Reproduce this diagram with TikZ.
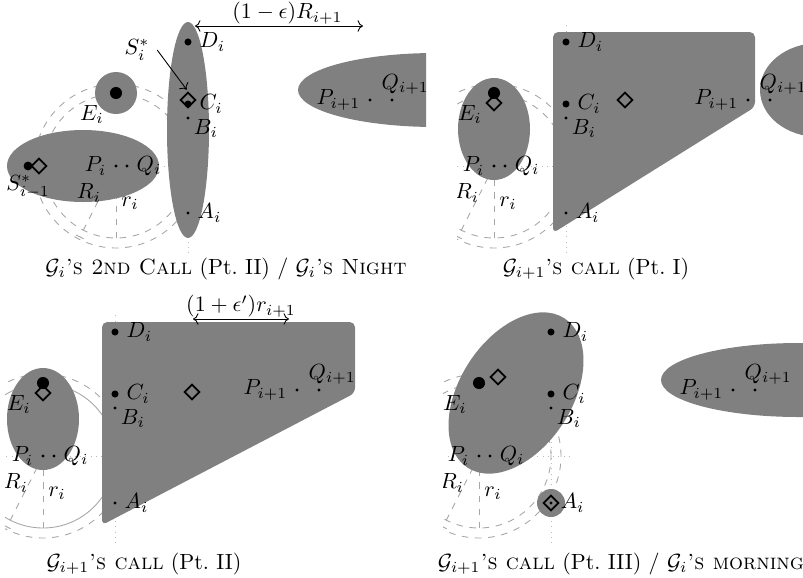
\documentclass[tikz,border=0pt]{standalone}
\usepackage{amsmath,amssymb}
\usetikzlibrary{shapes.geometric, arrows.meta, positioning}

\tikzset{
	bigdot/.style={circle, fill=black, inner sep=0pt, minimum size=3.2pt},
	smalldot/.style={circle, fill=black, inner sep=0pt, minimum size=1.4pt},
	edot/.style={circle, fill=black, inner sep=0pt, minimum size=5.5pt},
	diam/.style={diamond, draw=black, thick, inner sep=0pt, minimum size=7pt},
	ring/.style={gray!70, dashed},
	ringsolid/.style={gray!70},
	axisline/.style={gray!55, dotted},
	blob/.style={fill=gray}
}

\newcommand{\panelgrid}[1]{%
	\draw[axisline] (-100,0) -- (92,0);
	\draw[axisline] (72,-87) -- (72,144);
	\draw[#1] (0,0) circle (72);
	\draw[ring] (0,0) circle (82);
	\draw[ring] (0,0) -- (0,-72);
	\draw[ring, -{Bar[width=3.8pt]}] (0,0) -- (243:80);
}

\newcommand{\panelpoints}{%
	\node[bigdot, label=right:$D_i$] (D) at (72,124) {};
	\node[bigdot, label=right:$C_i$] (C) at (72,62) {};
	\node[smalldot, label={[xshift=-1.5pt, yshift=3.5pt]below right:$B_i$}] (B) at (72,48) {};
	\node[smalldot, label=right:$A_i$] (A) at (72,-47) {};
	\node[edot, label=225:$E_i$] (E) at (0,73) {};
	\node[smalldot, label=left:$P_i$] (P) at (0,0) {};
	\node[smalldot, label=right:$Q_i$] (Q) at (11,0) {};
	\node[smalldot, label=left:$P_{i+1}$] (Pn) at (254,66) {};
	\node[smalldot, label={[xshift=6pt, yshift=-2pt]above:$Q_{i+1}$}] (Qn) at (276,66) {};
	\node (Rl) at (-27,-27) {$R_i$};
	\node (rl) at (14,-37) {$r_i$};
}

\begin{document}
\begin{tikzpicture}[x=0.455pt, y=0.455pt]
	\useasboundingbox (0,0) rectangle (803,577);

	\begin{scope}
		\clip (0,319) rectangle (426,577);
		\begin{scope}[shift={(116,411)}, name prefix=a-]
			\panelgrid{ring}
			\fill[blob] (72,36) ellipse (21 and 108);
			\fill[blob] (0,73) circle (21);
			\fill[blob] (-33,0) ellipse (76 and 36);
			\fill[blob] (320,76) ellipse (138 and 37);
			\node[diam] (Cd) at (72,66) {};
			\node[diam] (Sd) at (-77,0) {};
			\panelpoints
			\node[bigdot, minimum size=4pt, label={[yshift=1.5pt]below:$S^*_{i-1}$}] (S) at (-88,0) {};
			\node (Sstar) at (21,116) {$S^*_i$};
			\draw[->, shorten >=1pt] (Sstar.east) -- (Cd.north);
			\coordinate (w1) at (79,140);
			\coordinate (w2) at (247,140);
			\draw[<->] (w1) -- node[above, inner sep=0.5pt, pos=0.55] (wl) {$(1-\epsilon)R_{i+1}$} (w2);
		\end{scope}
	\end{scope}

	\begin{scope}
		\clip (457,319) rectangle (803,577);
		\begin{scope}[shift={(494,411)}, name prefix=b-]
			\panelgrid{ring}
			\fill[blob] (0,37) ellipse (36 and 51);
			\fill[blob, rounded corners=2.4pt] (59,134) -- (261,134) -- (261,59) -- (59,-67) -- cycle;
			\fill[blob] (325,76) ellipse (59 and 47);
			\node[diam] (Ed) at (0,63) {};
			\node[diam] (Td) at (131,66) {};
			\panelpoints
		\end{scope}
	\end{scope}

	\begin{scope}
		\clip (5,29) rectangle (440,287);
		\begin{scope}[shift={(43,121)}, name prefix=c-]
			\panelgrid{ringsolid}
			\fill[blob] (0,37) ellipse (36 and 51);
			\fill[blob, rounded corners=2.4pt] (59,134) -- (312,134) -- (312,63) -- (59,-69) -- cycle;
			\node[diam] (Ed) at (0,63) {};
			\node[diam] (Td) at (149,64) {};
			\panelpoints
			\coordinate (u1) at (150,137);
			\coordinate (u2) at (246,137);
			\draw[<->] (u1) -- node[above, inner sep=0.5pt] (ul) {$(1+\epsilon')r_{i+1}$} (u2);
		\end{scope}
	\end{scope}

	\begin{scope}
		\clip (443,29) rectangle (803,287);
		\begin{scope}[shift={(479,121)}, name prefix=d-]
			\panelgrid{ring}
			\fill[blob, rotate around={57:(37,63)}] (37,63) ellipse (89 and 56);
			\fill[blob] (72,-47) circle (14);
			\fill[blob] (320,76) ellipse (138 and 37);
			\node[diam] (Ed) at (19,79) {};
			\node[diam] (Ad) at (72,-47) {};
			\panelpoints
		\end{scope}
	\end{scope}

	\node[anchor=base] (cap1) at (226,303) {$\mathcal{G}_i$\textsc{'s 2nd Call} (Pt.~II) / $\mathcal{G}_i$\textsc{'s Night}};
	\node[anchor=base] (cap2) at (596,303) {$\mathcal{G}_{i+1}$\textsc{'s call} (Pt.~I)};
	\node[anchor=base] (cap3) at (144,8) {$\mathcal{G}_{i+1}$\textsc{'s call} (Pt.~II)};
	\node[anchor=base] (cap4) at (621,8) {$\mathcal{G}_{i+1}$\textsc{'s call} (Pt.~III) / $\mathcal{G}_i$\textsc{'s morning}};
\end{tikzpicture}
\end{document}
